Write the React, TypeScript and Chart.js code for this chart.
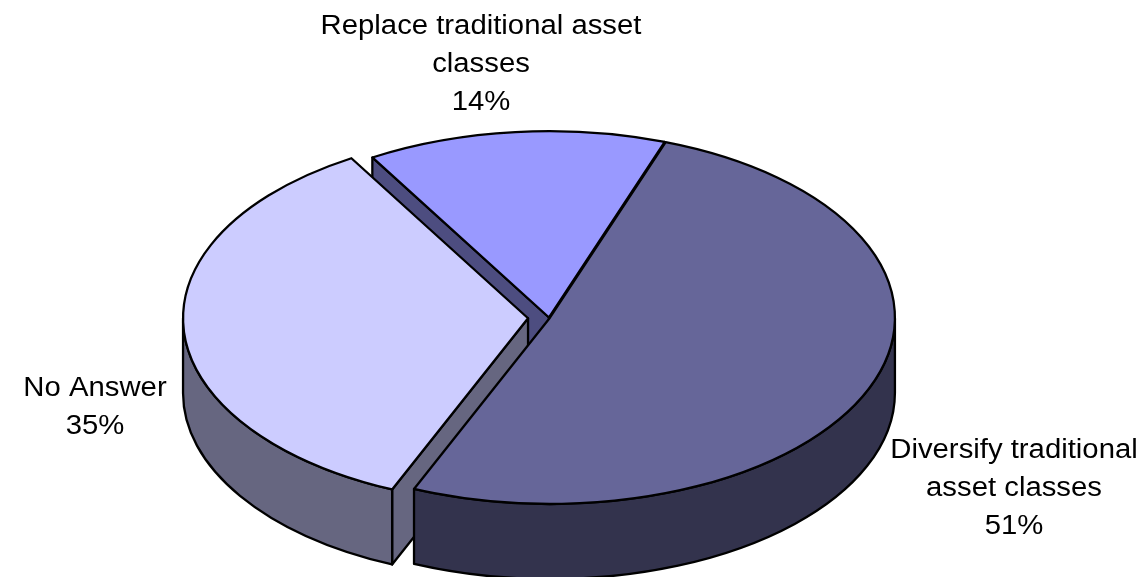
import { useEffect, useRef } from "react";
import { Chart, registerables } from "chart.js";

Chart.register(...registerables);

// Survey answers, in clockwise drawing order.
const categories = [
  "Diversify traditional\nasset classes",
  "No Answer",
  "Replace traditional asset\nclasses",
];
const shares = [51, 35, 14];
const topColors = ["#666699", "#CCCCFF", "#9999FF"];
const sideColors = ["#33334D", "#666680", "#4D4D80"];
const explodePx = [1, 21, 0];

// Centre of each text block and the baseline of its first line.
const labelAnchors = [
  { x: 1014, y: 458 },
  { x: 95, y: 396 },
  { x: 481, y: 34 },
];

const TILT = 0.54;
const DEPTH = 75;
const START_DEG = 19.6;
const RADIUS = 345;
const OUTLINE = "#000000";
const STROKE = 2.3;
const LABEL_STRETCH = 1.085;

type ArcGeom = { x: number; y: number; startAngle: number; endAngle: number; outerRadius: number };

const pie3d = {
  id: "pie3d",
  afterDatasetsUpdate(chart: any) {
    chart.getDatasetMeta(0).data.forEach((el: any, i: number) => {
      const mid = (el.startAngle + el.endAngle) / 2;
      el.x += Math.cos(mid) * explodePx[i];
      el.y += Math.sin(mid) * explodePx[i];
    });
  },
  beforeDatasetsDraw(chart: any) {
    const { ctx } = chart;
    const cy = (chart.chartArea.top + chart.chartArea.bottom) / 2;
    const arcs: ArcGeom[] = chart.getDatasetMeta(0).data;
    const screenY = (y: number) => cy + (y - cy) * TILT;

    ctx.save();
    ctx.lineWidth = STROKE;
    ctx.lineJoin = "round";
    ctx.strokeStyle = OUTLINE;

    // Radial cut faces that look towards the viewer, furthest slice first.
    [2, 1, 0].forEach((i) => {
      const a = arcs[i];
      const ax = a.x;
      const ay = screenY(a.y);
      const face = (angle: number) => {
        const px = a.x + Math.cos(angle) * a.outerRadius;
        const py = screenY(a.y + Math.sin(angle) * a.outerRadius);
        ctx.beginPath();
        ctx.moveTo(ax, ay);
        ctx.lineTo(px, py);
        ctx.lineTo(px, py + DEPTH);
        ctx.lineTo(ax, ay + DEPTH);
        ctx.closePath();
        ctx.fillStyle = sideColors[i];
        ctx.fill();
        ctx.stroke();
      };
      // Angles run from 3 o'clock; a start edge faces down on the left half, an end edge on the right.
      if (Math.cos(a.startAngle) < 0) face(a.startAngle);
      if (Math.cos(a.endAngle) > 0) face(a.endAngle);
    });

    // Outer rim: only the part of each slice on the front half of the ellipse.
    [2, 1, 0].forEach((i) => {
      const a = arcs[i];
      const ay = screenY(a.y);
      for (let turn = -1; turn <= 1; turn++) {
        const lo = Math.max(a.startAngle, 2 * Math.PI * turn);
        const hi = Math.min(a.endAngle, 2 * Math.PI * turn + Math.PI);
        if (hi <= lo) continue;
        const rx = a.outerRadius;
        const ry = a.outerRadius * TILT;
        ctx.beginPath();
        ctx.ellipse(a.x, ay, rx, ry, 0, lo, hi);
        ctx.ellipse(a.x, ay + DEPTH, rx, ry, 0, hi, lo, true);
        ctx.closePath();
        ctx.fillStyle = sideColors[i];
        ctx.fill();
        ctx.stroke();
      }
    });
    ctx.restore();

    // The library paints the top faces inside this squashed space.
    ctx.save();
    ctx.translate(0, cy);
    ctx.scale(1, TILT);
    ctx.translate(0, -cy);
  },
  afterDatasetsDraw(chart: any) {
    const { ctx } = chart;
    ctx.restore();

    const cy = (chart.chartArea.top + chart.chartArea.bottom) / 2;
    const arcs: ArcGeom[] = chart.getDatasetMeta(0).data;
    ctx.save();
    ctx.lineWidth = STROKE;
    ctx.lineJoin = "round";
    ctx.strokeStyle = OUTLINE;
    arcs.forEach((a) => {
      const ay = cy + (a.y - cy) * TILT;
      ctx.beginPath();
      ctx.moveTo(a.x, ay);
      ctx.ellipse(a.x, ay, a.outerRadius, a.outerRadius * TILT, 0, a.startAngle, a.endAngle);
      ctx.closePath();
      ctx.stroke();
    });
    ctx.restore();
  },
  afterDraw(chart: any) {
    const { ctx } = chart;
    const total = shares.reduce((s, v) => s + v, 0);
    ctx.save();
    ctx.fillStyle = "#000000";
    ctx.font = "27px 'Liberation Sans'";
    ctx.textAlign = "center";
    ctx.textBaseline = "alphabetic";
    categories.forEach((name, i) => {
      const lines = [...name.split("\n"), `${Math.round((shares[i] / total) * 100)}%`];
      lines.forEach((line, n) => {
        ctx.save();
        ctx.translate(labelAnchors[i].x, labelAnchors[i].y + n * 38);
        ctx.scale(LABEL_STRETCH, 1);
        ctx.fillText(line, 0, 0);
        ctx.restore();
      });
    });
    ctx.restore();
  },
};

export default function App() {
  const canvasRef = useRef<HTMLCanvasElement | null>(null);

  useEffect(() => {
    const chart = new Chart(canvasRef.current as HTMLCanvasElement, {
      type: "pie",
      data: {
        labels: categories,
        datasets: [
          {
            data: shares,
            backgroundColor: topColors,
            borderWidth: 0,
            radius: RADIUS,
            clip: false,
          } as any,
        ],
      },
      options: {
        responsive: false,
        animation: false,
        rotation: START_DEG,
        events: [],
        layout: { padding: { top: 58, right: 44, bottom: 0, left: 0 } },
        plugins: { legend: { display: false }, tooltip: { enabled: false } },
      },
      plugins: [pie3d],
    });
    return () => chart.destroy();
  }, []);

  return (
    <div style={{ position: "fixed", left: 0, top: 0, width: 1142, height: 577, background: "#ffffff" }}>
      <canvas ref={canvasRef} width={1142} height={577} style={{ display: "block" }} />
    </div>
  );
}
